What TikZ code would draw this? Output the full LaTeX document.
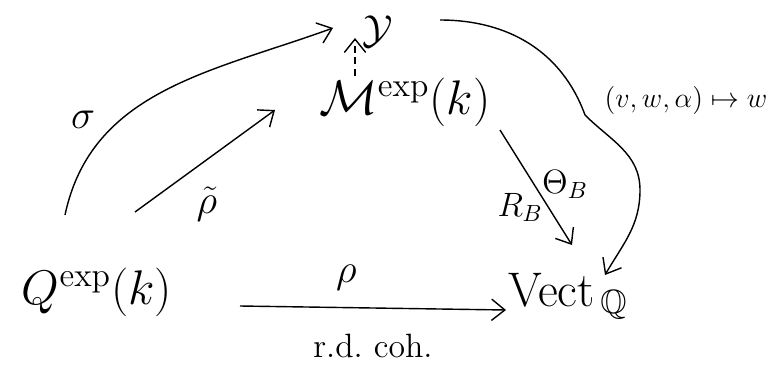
\documentclass[tikz,border=0pt]{standalone}
\usepackage{amssymb}
\usetikzlibrary{arrows.meta,positioning,calc}
\tikzset{
  obj/.style={font=\huge, inner sep=2pt},
  lbl/.style={font=\LARGE, inner sep=1pt},
  sml/.style={font=\Large, inner sep=1pt},
  arr/.style={-{Straight Barb[length=2mm,width=3.2mm]}, semithick},
  darr/.style={arr, densely dashed},
}

\begin{document}
\begin{tikzpicture}[x=0.15mm,y=0.15mm]
  \useasboundingbox (0,0) rectangle (776,374);
  \node[obj] (qexp) at (97,82) {$Q^{\mathrm{exp}}(k)$};
  \node[obj] (mexp) at (405,272) {$\mathcal{M}^{\mathrm{exp}}(k)$};
  \node[obj, font=\LARGE] (yy) at (378,342) {$\mathcal{Y}$};
  \node[obj] (vect) at (568,78) {$\mathrm{Vect}_{\,\mathbb{Q}}$};
  % arrows
  \draw[arr] ([shift={(143,-14)}]qexp.center) -- node[lbl, pos=0.4, above=6pt] (rho) {$\rho$}
    node[sml, pos=0.5, below=10pt] (rdcoh) {r.d.\ coh.} ([shift={(-62,-14)}]vect.center);
  \draw[arr] ([shift={(38,80)}]qexp.center) -- node[lbl, pos=0.36, below right=5pt] (rhot) {$\tilde{\rho}$} ([shift={(-130,-8)}]mexp.center);
  \draw[arr] ([shift={(-32,77)}]qexp.center) to[out=78,in=200]
    node[lbl, pos=0.26, above left=3pt] (sig) {$\sigma$} ([shift={(-45,4)}]yy.center);
  \draw[darr] ([shift={(-50,26)}]mexp.center) -- ([shift={(-23,-6)}]yy.center);
  \draw[arr] ([shift={(95,-28)}]mexp.center) -- node[sml, pos=0.67, left=1pt] (rb) {$R_B$} ([shift={(4,51)}]vect.center);
  \node[sml] (theta) at (565,190) {$\Theta_B$};
  \draw[arr] ([shift={(62,12)}]yy.center) to[out=0,in=110] ++(145,-95)
    to[out=-45,in=90] ++(55,-75) to[out=-90,in=60] ([shift={(37,21)}]vect.center);
  \node[lbl, font=\large] (vwa) at (686,274) {$(v,w,\alpha)\mapsto w$};
\end{tikzpicture}
\end{document}
